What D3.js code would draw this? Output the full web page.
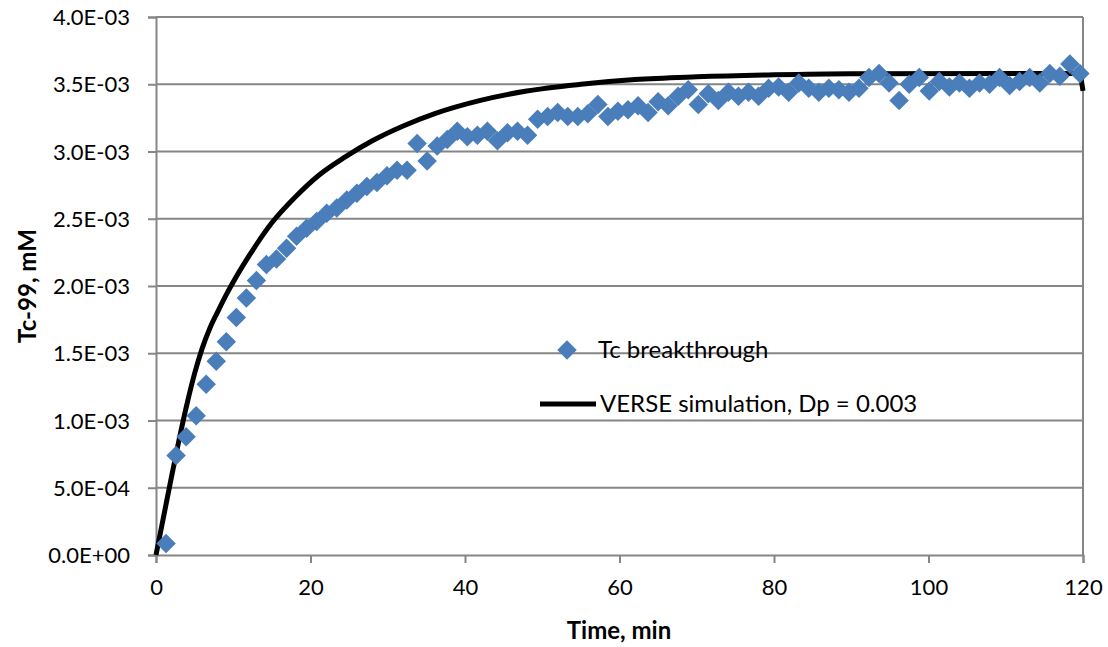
<!DOCTYPE html>
<html>
<head>
<meta charset="utf-8">
<script src="https://cdn.jsdelivr.net/npm/d3@7"></script>
<style>
  body { margin: 0; background: #fff; }
  text { font-family: Lato, "Liberation Sans", sans-serif; fill: #000; }
</style>
</head>
<body>
<div id="chart"></div>
<script>
// measured data, time in min
const times = [1.3, 2.6, 3.9, 5.2, 6.5, 7.8, 9.1, 10.4, 11.7, 13.0,
  14.3, 15.6, 16.9, 18.2, 19.5, 20.8, 22.1, 23.4, 24.7, 26.0,
  27.3, 28.6, 29.9, 31.2, 32.5, 33.8, 35.1, 36.4, 37.7, 39.0,
  40.3, 41.6, 42.9, 44.2, 45.5, 46.8, 48.1, 49.4, 50.7, 52.0,
  53.3, 54.6, 55.9, 57.2, 58.5, 59.8, 61.1, 62.4, 63.7, 65.0,
  66.3, 67.6, 68.9, 70.2, 71.5, 72.8, 74.1, 75.4, 76.7, 78.0,
  79.3, 80.6, 81.9, 83.2, 84.5, 85.8, 87.1, 88.4, 89.7, 91.0,
  92.3, 93.6, 94.9, 96.2, 97.5, 98.8, 100.1, 101.4, 102.7, 104.0,
  105.3, 106.6, 107.9, 109.2, 110.5, 111.8, 113.1, 114.4, 115.7, 117.0,
  118.3, 119.6];
// Tc-99 concentration, units of 1e-3 mM
const tcValues = [0.085, 0.74, 0.88, 1.035, 1.27, 1.44, 1.585, 1.765, 1.91, 2.04,
  2.16, 2.20, 2.28, 2.37, 2.43, 2.48, 2.54, 2.58, 2.64, 2.69,
  2.74, 2.77, 2.82, 2.86, 2.86, 3.06, 2.93, 3.04, 3.09, 3.15,
  3.11, 3.12, 3.15, 3.08, 3.14, 3.15, 3.12, 3.24, 3.26, 3.29,
  3.26, 3.26, 3.28, 3.35, 3.26, 3.30, 3.31, 3.34, 3.29, 3.37,
  3.34, 3.41, 3.46, 3.35, 3.43, 3.38, 3.44, 3.41, 3.44, 3.41,
  3.47, 3.48, 3.44, 3.51, 3.47, 3.44, 3.47, 3.46, 3.44, 3.47,
  3.55, 3.58, 3.51, 3.38, 3.50, 3.55, 3.45, 3.52, 3.48, 3.51,
  3.47, 3.51, 3.50, 3.55, 3.49, 3.52, 3.55, 3.51, 3.58, 3.56,
  3.65, 3.58];

// simulation curve
const simTimes = [0, 1, 2, 3, 4, 5, 6, 7, 8, 9, 10, 12, 15, 18, 21, 24.5,
  28, 32, 36, 42, 48, 55, 62, 70, 80, 90, 110, 119.5, 120];
const simValues = [0, 0.29, 0.58, 0.86, 1.12, 1.35, 1.54, 1.69, 1.81, 1.925, 2.03, 2.22, 2.47, 2.66, 2.82, 2.96,
  3.08, 3.19, 3.28, 3.38, 3.45, 3.50, 3.535, 3.555, 3.57, 3.578, 3.58, 3.58, 3.45];

const xTicks = [0, 20, 40, 60, 80, 100, 120];
const yTicks = [0, 0.5, 1.0, 1.5, 2.0, 2.5, 3.0, 3.5, 4.0];
const yTickLabels = ['0.0E+00', '5.0E-04', '1.0E-03', '1.5E-03', '2.0E-03',
  '2.5E-03', '3.0E-03', '3.5E-03', '4.0E-03'];

const seriesNames = ['Tc breakthrough', 'VERSE simulation, Dp = 0.003'];

// dimensions
const width = 1108;
const height = 647;
const margin = {top: 17, right: 25, bottom: 92, left: 156};
const plotW = width - margin.left - margin.right;
const plotH = height - margin.top - margin.bottom;

const gridColor = '#868686';
const markerColor = '#4a7ebb';

const xScale = d3.scaleLinear().domain([0, 120]).range([0, plotW]);
const yScale = d3.scaleLinear().domain([0, 4.0]).range([plotH, 0]);

const svg = d3.select('#chart')
              .append('svg')
              .attr('width', width)
              .attr('height', height);

const plot = svg.append('g')
                .attr('transform', `translate(${margin.left}, ${margin.top})`);

// horizontal gridlines
plot.selectAll('.grid')
    .data(yTicks.slice(1))
    .enter()
    .append('line')
    .attr('class', 'grid')
    .attr('x1', 0)
    .attr('x2', plotW)
    .attr('y1', d => yScale(d))
    .attr('y2', d => yScale(d))
    .attr('stroke', gridColor)
    .attr('stroke-width', 2);

// right border
plot.append('line')
    .attr('x1', plotW).attr('x2', plotW)
    .attr('y1', 0).attr('y2', plotH)
    .attr('stroke', gridColor)
    .attr('stroke-width', 2);

// axes
const xAxis = d3.axisBottom(xScale).tickValues(xTicks).tickSize(8).tickPadding(16);
const yAxis = d3.axisLeft(yScale).tickValues(yTicks).tickSize(8).tickPadding(18)
                .tickFormat((d, i) => yTickLabels[i]);

const gx = plot.append('g')
               .attr('transform', `translate(0, ${plotH})`)
               .call(xAxis);
const gy = plot.append('g').call(yAxis);

[gx, gy].forEach(g => {
  g.select('.domain').attr('stroke', gridColor).attr('stroke-width', 2);
  g.selectAll('.tick line').attr('stroke', gridColor).attr('stroke-width', 2);
  g.selectAll('.tick text')
   .style('font-family', 'Lato, "Liberation Sans", sans-serif')
   .style('font-size', '22px')
   .attr('fill', '#000');
});
gy.selectAll('.tick text').attr('dy', '0.35em');

// simulation line
const line = d3.line()
               .x(d => xScale(d[0]))
               .y(d => yScale(d[1]))
               .curve(d3.curveMonotoneX);

plot.append('path')
    .datum(simTimes.map((t, i) => [t, simValues[i]]))
    .attr('d', line)
    .attr('fill', 'none')
    .attr('stroke', '#000')
    .attr('stroke-width', 5);

// diamond markers
const diamond = d3.symbol().type(d3.symbolSquare).size(190);

plot.selectAll('.pt')
    .data(times.map((t, i) => [t, tcValues[i]]))
    .enter()
    .append('path')
    .attr('class', 'pt')
    .attr('d', diamond)
    .attr('transform', d => `translate(${xScale(d[0])}, ${yScale(d[1])}) rotate(45)`)
    .attr('fill', markerColor);

// legend
const legend = svg.append('g');
legend.append('path')
      .attr('d', diamond)
      .attr('transform', 'translate(567, 350) rotate(45)')
      .attr('fill', markerColor);
legend.append('text')
      .attr('x', 598)
      .attr('y', 350)
      .attr('dy', '0.35em')
      .style('font-size', '24px')
      .text(seriesNames[0]);
legend.append('line')
      .attr('x1', 540).attr('x2', 596)
      .attr('y1', 404).attr('y2', 404)
      .attr('stroke', '#000')
      .attr('stroke-width', 5);
legend.append('text')
      .attr('x', 600)
      .attr('y', 404)
      .attr('dy', '0.35em')
      .style('font-size', '24px')
      .text(seriesNames[1]);

// axis titles
svg.append('text')
   .attr('x', 619)
   .attr('y', 639)
   .attr('text-anchor', 'middle')
   .style('font-size', '24px')
   .style('font-weight', 'bold')
   .text('Time, min');

svg.append('text')
   .attr('transform', `translate(36, ${margin.top + plotH / 2}) rotate(-90)`)
   .attr('text-anchor', 'middle')
   .style('font-size', '24px')
   .style('font-weight', 'bold')
   .text('Tc-99, mM');
</script>
</body>
</html>
